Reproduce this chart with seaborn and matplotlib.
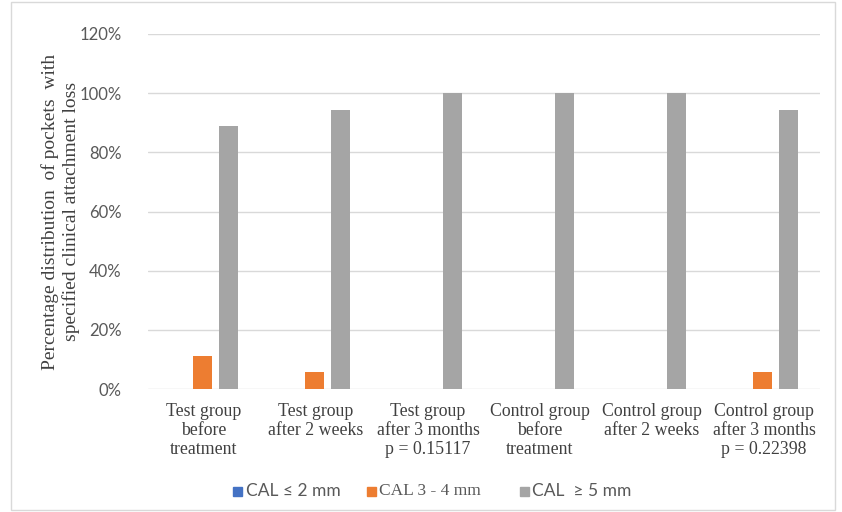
import matplotlib
matplotlib.use("Agg")
import matplotlib.pyplot as plt
import seaborn as sns
import pandas as pd
from matplotlib.patches import Rectangle

categories = [
    "Test group\nbefore\ntreatment",
    "Test group\nafter 2 weeks",
    "Test group\nafter 3 months\np = 0.15117",
    "Control group\nbefore\ntreatment",
    "Control group\nafter 2 weeks",
    "Control group\nafter 3 months\np = 0.22398",
]
series = ["CAL \u2264 2 mm", "CAL 3 - 4 mm", "CAL  \u2265 5 mm"]
cal_le2 = [0.0, 0.0, 0.0, 0.0, 0.0, 0.0]
cal_3_4 = [11.1, 5.6, 0.0, 0.0, 0.0, 5.6]
cal_ge5 = [88.9, 94.4, 100.0, 100.0, 100.0, 94.4]
colors = ["#4472C4", "#ED7D31", "#A5A5A5"]

df = pd.DataFrame({
    "group": categories * 3,
    "series": [series[0]] * 6 + [series[1]] * 6 + [series[2]] * 6,
    "value": cal_le2 + cal_3_4 + cal_ge5,
})

sns.set_style("white")
fig = plt.figure(figsize=(8.42, 5.12), dpi=100)
ax = fig.add_axes([148 / 842, 123 / 512, 672 / 842, 355 / 512])

sns.barplot(data=df, x="group", y="value", hue="series", palette=colors,
            saturation=1, width=0.696, ax=ax, legend=False, zorder=3)

# narrow each bar around its centre so neighbouring bars have a small gap
for p in ax.patches:
    w = p.get_width()
    new_w = 0.17
    p.set_x(p.get_x() + (w - new_w) / 2 - 0.015)
    p.set_width(new_w)
    p.set_edgecolor("none")

ax.set_ylim(0, 120)
ax.set_xlim(-0.5, 5.5)
ax.set_yticks(range(0, 121, 20))
ax.set_yticklabels([f"{v}%" for v in range(0, 121, 20)],
                   fontfamily="Lato", fontsize=12, color="#595959")
ax.yaxis.grid(True, color="#D9D9D9", linewidth=1, zorder=0)
ax.xaxis.grid(False)
for s in ax.spines.values():
    s.set_visible(False)
ax.tick_params(axis="both", length=0)
ax.tick_params(axis="y", pad=19)
ax.set_xticks(range(len(categories)))
ax.set_xticklabels(categories, fontfamily="Liberation Serif", fontsize=12.8,
                   color="#404040", linespacing=1.15)
ax.tick_params(axis="x", pad=10)
ax.set_xlabel("")
ax.set_ylabel("Percentage distribution  of pockets  with\nspecified clinical attachment loss",
              fontfamily="Liberation Serif", fontsize=14, color="#404040",
              linespacing=1.25)
ax.yaxis.set_label_coords(-0.101, 0.5)

# legend row beneath the chart
legend_y = 21 / 512
entries = [(238, series[0], "Lato"), (371, series[1], "Liberation Serif"),
           (524, series[2], "Lato")]
for (xp, label, fam), col in zip(entries, colors):
    fig.patches.append(Rectangle(((xp - 4.5) / 842, legend_y - 4.5 / 512), 9 / 842, 9 / 512,
                                 transform=fig.transFigure, color=col))
    fig.text((xp + 8) / 842, legend_y, label, fontfamily=fam, fontsize=12.5,
             color="#595959", va="center", ha="left")

# thin frame around the whole chart
fig.patches.append(Rectangle((11 / 842, 2 / 512), 824 / 842, 508 / 512,
                             transform=fig.transFigure, fill=False,
                             edgecolor="#D9D9D9", linewidth=1))

fig.savefig("out.png", dpi=100)
